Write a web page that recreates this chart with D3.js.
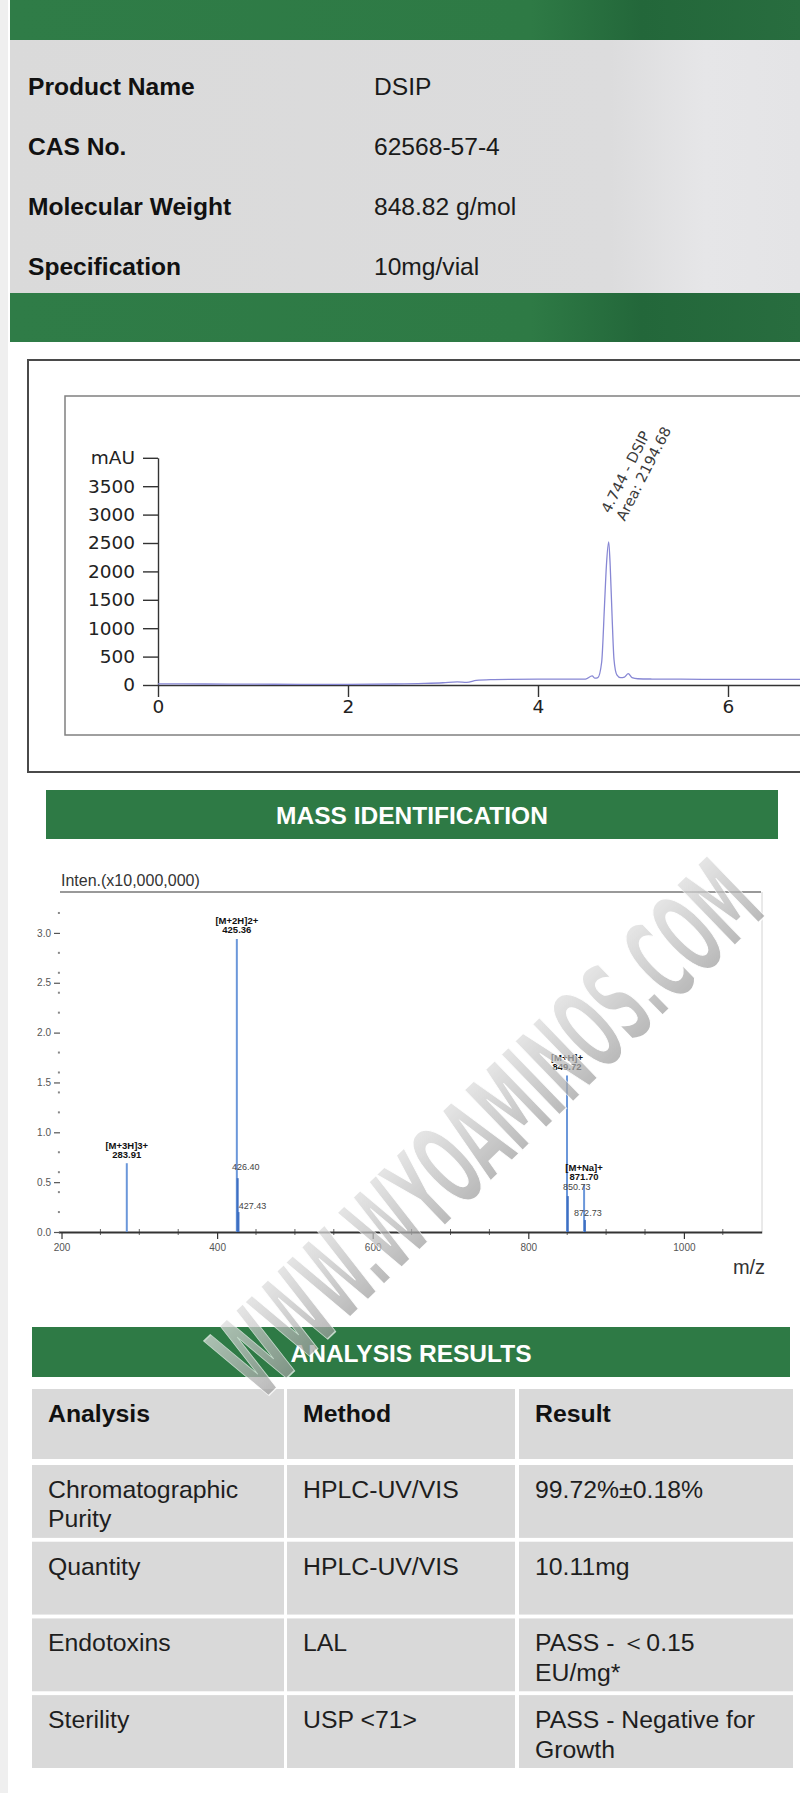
<!DOCTYPE html>
<html><head><meta charset="utf-8">
<script src="https://cdn.jsdelivr.net/npm/d3@7"></script>
<style>
html,body{margin:0;padding:0;background:#fff;}
svg{display:block;}
</style></head><body>
<svg id="c" width="800" height="1793"></svg>
<script>
// ---------------- DATA ----------------
const infoLabels = ["Product Name", "CAS No.", "Molecular Weight", "Specification"];
const infoValues = ["DSIP", "62568-57-4", "848.82 g/mol", "10mg/vial"];

// HPLC chromatogram (time in min, absorbance in mAU)
const hplcTime = [0, 0.5, 1.0, 1.5, 2.0, 2.5, 2.8, 3.0, 3.15, 3.25, 3.35, 3.5, 3.7, 4.0, 4.3, 4.5, 4.57, 4.6, 4.63, 4.67, 4.70, 4.72, 4.744, 4.76, 4.78, 4.80, 4.83, 4.87, 4.91, 4.95, 4.99, 5.05, 5.2, 5.5, 6.0, 6.5, 7.0, 7.5, 8.0];
const hplcMAU  = [20, 18, 15, 12, 12, 18, 28, 40, 55, 45, 80, 95, 100, 102, 102, 105, 160, 120, 130, 400, 1400, 2100, 2520, 2100, 1200, 450, 180, 130, 140, 200, 130, 110, 105, 102, 100, 100, 98, 98, 97];
const hplcYTicks = [0, 500, 1000, 1500, 2000, 2500, 3000, 3500];
const hplcYUnit = "mAU";
const hplcXTicks = [0, 2, 4, 6];
const hplcPeak = {time: 4.744, name: "DSIP", area: "2194.68"};

// Mass spectrum (m/z, intensity x10,000,000)
const msMZ    = [283.91, 425.36, 426.40, 427.43, 849.72, 850.73, 871.70, 872.73];
const msInten = [0.69, 2.94, 0.54, 0.20, 1.57, 0.36, 0.47, 0.12];
const msIon   = ["[M+3H]3+", "[M+2H]2+", "", "", "[M+H]+", "", "[M+Na]+", ""];
const msXTicks = [200, 400, 600, 800, 1000];
const msYTicks = [0, 0.5, 1.0, 1.5, 2.0, 2.5, 3.0];

// Analysis results table
const tableHeaders  = ["Analysis", "Method", "Result"];
const tableAnalysis = [["Chromatographic", "Purity"], ["Quantity"], ["Endotoxins"], ["Sterility"]];
const tableMethod   = [["HPLC-UV/VIS"], ["HPLC-UV/VIS"], ["LAL"], ["USP <71>"]];
const tableResult   = [["99.72%\u00B10.18%"], ["10.11mg"], ["PASS - \uFF1C0.15", "EU/mg*"], ["PASS - Negative for", "Growth"]];

// ---------------- DRAW ----------------
const svg = d3.select("#c");
const defs = svg.append("defs");
function grad(id, stops, attrs) {
  const g = defs.append("linearGradient").attr("id", id);
  Object.entries(attrs || {}).forEach(([k, v]) => g.attr(k, v));
  stops.forEach(([o, c]) => g.append("stop").attr("offset", o).attr("stop-color", c));
}
grad("bandGrad", [[0, "#2f7c47"], [0.66, "#2e7a45"], [0.8, "#23673a"], [1, "#286d3f"]]);
grad("panelGrad", [[0, "#dadada"], [0.76, "#dcdcdd"], [0.88, "#e6e6e8"], [1, "#e4e4e6"]]);
grad("wmGrad", [[0, "#8c8c8c"], [0.5, "#bdbdbd"], [1, "#ececec"]], {x1: 0, y1: 1, x2: 0, y2: 0});

const SANS = "'Liberation Sans', Arial, sans-serif";
const DEJA = "'DejaVu Sans', sans-serif";
const GREEN = "#2e7a45";

svg.append("rect").attr("x", 0).attr("y", 0).attr("width", 8).attr("height", 1793).attr("fill", "#efefef");

// ---- product info block ----
svg.append("rect").attr("x", 10).attr("y", 0).attr("width", 790).attr("height", 40).attr("fill", "url(#bandGrad)");
svg.append("rect").attr("x", 10).attr("y", 40).attr("width", 790).attr("height", 253).attr("fill", "url(#panelGrad)");
svg.append("rect").attr("x", 10).attr("y", 293).attr("width", 790).attr("height", 49).attr("fill", "url(#bandGrad)");

const infoY = d3.scalePoint().domain(infoLabels).range([86, 266]);
const infoG = svg.append("g").attr("font-family", SANS).attr("font-size", 24.6).attr("fill", "#111");
infoG.selectAll("text.lab").data(infoLabels).join("text").attr("class", "lab")
  .attr("x", 28).attr("y", d => infoY(d)).attr("dy", "0.36em").attr("font-weight", "bold").text(d => d);
infoG.selectAll("text.val").data(infoValues).join("text").attr("class", "val")
  .attr("x", 374).attr("y", (d, i) => infoY(infoLabels[i])).attr("dy", "0.36em").attr("fill", "#1a1a1a").text(d => d);

// ---- HPLC chromatogram ----
svg.append("rect").attr("x", 28).attr("y", 360).attr("width", 800).attr("height", 412)
  .attr("fill", "#fff").attr("stroke", "#4a4a4a").attr("stroke-width", 2);
svg.append("rect").attr("x", 65).attr("y", 396).attr("width", 800).attr("height", 339)
  .attr("fill", "#fff").attr("stroke", "#808080").attr("stroke-width", 1.5);

const hx = d3.scaleLinear().domain([0, 8]).range([158, 918]);
const hy = d3.scaleLinear().domain([0, 4000]).range([685, 457.8]);

const yAx = svg.append("g").attr("transform", `translate(${hx(0)},0)`)
  .call(d3.axisLeft(hy).tickValues([...hplcYTicks, 4000])
    .tickFormat(d => d === 4000 ? hplcYUnit : d).tickSize(15).tickPadding(8).tickSizeOuter(0));
const xAx = svg.append("g").attr("transform", `translate(0,${hy(0)})`)
  .call(d3.axisBottom(hx).tickValues(hplcXTicks).tickSize(12).tickPadding(3).tickSizeOuter(0));
[yAx, xAx].forEach(a => {
  a.selectAll("text").attr("font-family", DEJA).attr("font-size", 18.5).attr("fill", "#222");
  a.selectAll("line,path").attr("stroke", "#333").attr("stroke-width", 1.4);
});

const hplcPts = hplcTime.map((t, i) => [t, hplcMAU[i]]);
svg.append("path").datum(hplcPts)
  .attr("d", d3.line().x(d => hx(d[0])).y(d => hy(d[1])).curve(d3.curveMonotoneX))
  .attr("fill", "none").attr("stroke", "#8787d4").attr("stroke-width", 1.3);

const pl = svg.append("g")
  .attr("transform", `translate(${hx(hplcPeak.time) + 1},514) rotate(-63)`)
  .attr("font-family", DEJA).attr("font-size", 14.5).attr("fill", "#3a3a3a");
pl.append("text").attr("x", 0).attr("y", 0).text(`${hplcPeak.time} - ${hplcPeak.name}`);
pl.append("text").attr("x", 0).attr("y", 17).text(`Area: ${hplcPeak.area}`);

// ---- MASS IDENTIFICATION ----
svg.append("rect").attr("x", 46).attr("y", 790).attr("width", 732).attr("height", 49).attr("fill", GREEN);
svg.append("text").attr("x", 412).attr("y", 815).attr("dy", "0.36em").attr("text-anchor", "middle")
  .attr("font-family", SANS).attr("font-weight", "bold").attr("font-size", 24.5).attr("fill", "#fff")
  .text("MASS IDENTIFICATION");

svg.append("text").attr("x", 61).attr("y", 880).attr("dy", "0.36em")
  .attr("font-family", SANS).attr("font-size", 16).attr("fill", "#333").text("Inten.(x10,000,000)");
svg.append("line").attr("x1", 60).attr("x2", 761).attr("y1", 892).attr("y2", 892)
  .attr("stroke", "#777").attr("stroke-width", 1.5);
svg.append("line").attr("x1", 762).attr("x2", 762).attr("y1", 892).attr("y2", 1232)
  .attr("stroke", "#d4d4d4").attr("stroke-width", 1);

const mx = d3.scaleLinear().domain([196, 1100]).range([58.4, 761.7]);
const my = d3.scaleLinear().domain([0, 3.3]).range([1232, 903]);

// minor x ticks
const minorX = d3.range(250, 1100, 50).filter(v => v % 200 !== 0);
svg.append("g").selectAll("line").data(minorX).join("line")
  .attr("x1", d => mx(d)).attr("x2", d => mx(d)).attr("y1", 1229).attr("y2", 1235)
  .attr("stroke", "#666").attr("stroke-width", 1);
const mxAx = svg.append("g").attr("transform", `translate(0,${my(0)})`)
  .call(d3.axisBottom(mx).tickValues(msXTicks).tickFormat(d3.format("d")).tickSize(7).tickPadding(5).tickSizeOuter(0));
mxAx.selectAll("path").attr("stroke", "#333").attr("stroke-width", 2);
mxAx.selectAll("line").attr("stroke", "#333").attr("stroke-width", 1.2);
mxAx.selectAll("text").attr("font-family", SANS).attr("font-size", 10).attr("fill", "#555");

// y ticks
const myAx = svg.append("g").attr("transform", `translate(${mx(196) + 1.6},0)`)
  .call(d3.axisLeft(my).tickValues(msYTicks).tickFormat(d3.format(".1f")).tickSize(6).tickPadding(3).tickSizeOuter(0));
myAx.select("path").remove();
myAx.selectAll("line").attr("stroke", "#555").attr("stroke-width", 1.2);
myAx.selectAll("text").attr("font-family", SANS).attr("font-size", 10).attr("fill", "#555");
const minorY = d3.range(1, 17).map(i => i * 0.2).filter(v => Math.abs(v * 2 - Math.round(v * 2)) > 1e-6);
svg.append("g").selectAll("rect").data(minorY).join("rect")
  .attr("x", mx(196) - 0.5).attr("y", d => my(d) - 1).attr("width", 2).attr("height", 2).attr("fill", "#888");

svg.append("text").attr("x", 749).attr("y", 1267).attr("dy", "0.36em").attr("text-anchor", "middle")
  .attr("font-family", SANS).attr("font-size", 20).attr("fill", "#333").text("m/z");

// peaks
const peaks = msMZ.map((m, i) => ({mz: m, v: msInten[i], ion: msIon[i]}));
svg.append("g").selectAll("line").data(peaks).join("line")
  .attr("x1", d => mx(d.mz)).attr("x2", d => mx(d.mz)).attr("y1", my(0)).attr("y2", d => my(d.v))
  .attr("stroke", d => d.ion ? "#6b97da" : "#3e6fc2").attr("stroke-width", 2);

const mainLab = svg.append("g").attr("font-family", SANS).attr("font-weight", "bold")
  .attr("font-size", 9.5).attr("fill", "#111").attr("text-anchor", "middle");
peaks.filter(d => d.ion).forEach(d => {
  mainLab.append("text").attr("x", mx(d.mz)).attr("y", my(d.v) - 18).attr("dy", "0.36em").text(d.ion);
  mainLab.append("text").attr("x", mx(d.mz)).attr("y", my(d.v) - 9).attr("dy", "0.36em").text(d.mz.toFixed(2));
});
const isoDx = {"426.40": 8, "427.43": 14, "850.73": 9, "872.73": 3};
const isoDy = {"426.40": -11, "427.43": -6, "850.73": -9, "872.73": -7};
const isoLab = svg.append("g").attr("font-family", SANS).attr("font-size", 9)
  .attr("fill", "#444").attr("text-anchor", "middle");
peaks.filter(d => !d.ion).forEach(d => {
  const k = d.mz.toFixed(2);
  isoLab.append("text").attr("x", mx(d.mz) + (isoDx[k] || 0)).attr("y", my(d.v) + (isoDy[k] || -8))
    .attr("dy", "0.36em").text(k);
});

// ---- ANALYSIS RESULTS ----
svg.append("rect").attr("x", 32).attr("y", 1327).attr("width", 758).attr("height", 50).attr("fill", GREEN);
svg.append("text").attr("x", 411).attr("y", 1353).attr("dy", "0.36em").attr("text-anchor", "middle")
  .attr("font-family", SANS).attr("font-weight", "bold").attr("font-size", 24.5).attr("fill", "#fff")
  .text("ANALYSIS RESULTS");

const colX = [32, 287, 519], colW = [252, 228, 274];
const tG = svg.append("g").attr("font-family", SANS).attr("font-size", 24.8);
tableHeaders.forEach((h, c) => {
  tG.append("rect").attr("x", colX[c]).attr("y", 1389).attr("width", colW[c]).attr("height", 70).attr("fill", "#d9d9d9");
  tG.append("text").attr("x", colX[c] + 16).attr("y", 1413).attr("dy", "0.36em")
    .attr("font-weight", "bold").attr("fill", "#111").text(h);
});
const rowY = d3.scaleBand().domain(d3.range(tableAnalysis.length)).range([1465, 1768]).paddingInner(0.05);
const cols = [tableAnalysis, tableMethod, tableResult];
tableAnalysis.forEach((_, r) => {
  cols.forEach((col, c) => {
    tG.append("rect").attr("x", colX[c]).attr("y", rowY(r)).attr("width", colW[c])
      .attr("height", rowY.bandwidth()).attr("fill", "#d9d9d9");
    col[r].forEach((line, li) => {
      tG.append("text").attr("x", colX[c] + 16).attr("y", rowY(r) + 24 + li * 29.5).attr("dy", "0.36em")
        .attr("fill", "#1e1e1e").text(line);
    });
  });
});

// ---- watermark ----
svg.append("g").attr("transform", "translate(486,1128) rotate(-44) scale(1,1.5)")
  .append("text").attr("text-anchor", "middle").attr("dy", "0.36em")
  .attr("font-family", "'Liberation Sans Narrow', 'DejaVu Sans Condensed', sans-serif")
  .attr("font-weight", "bold").attr("font-size", 77)
  .attr("textLength", 705).attr("lengthAdjust", "spacingAndGlyphs")
  .attr("fill", "url(#wmGrad)").attr("opacity", 0.72)
  .attr("stroke", "#fff").attr("stroke-width", 1)
  .text("WWW.WYOAMINOS.COM");
</script>
</body></html>
